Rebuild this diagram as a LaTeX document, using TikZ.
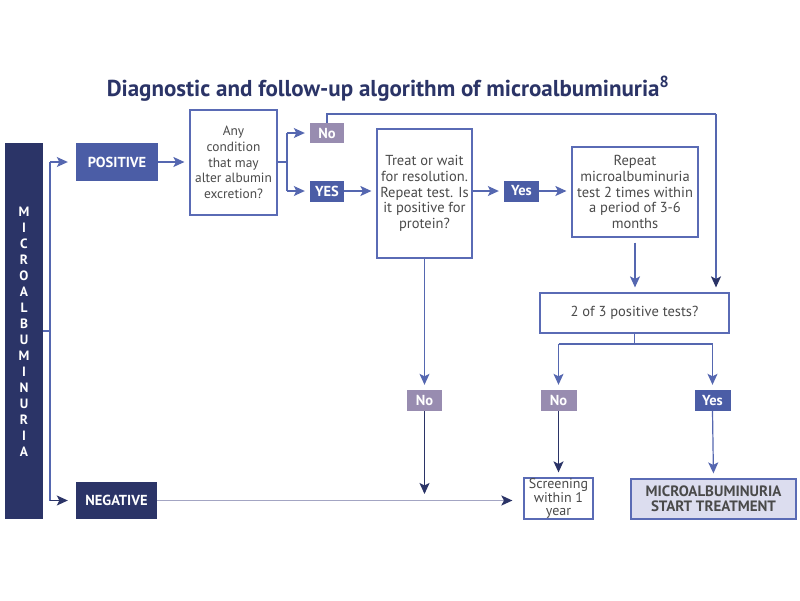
\documentclass[tikz,border=0pt]{standalone}
\usepackage{fontspec}
\setmainfont{PT Sans}
\usetikzlibrary{arrows.meta}
\definecolor{navy}{HTML}{2B3467}
\definecolor{mblue}{HTML}{4B5DA6}
\definecolor{lblue}{HTML}{5567B0}
\definecolor{boxblue}{HTML}{5A6BB5}
\definecolor{nopurple}{HTML}{988CB0}
\definecolor{lav}{HTML}{DCDDEF}
\definecolor{txtgray}{HTML}{4A4A4A}
\definecolor{negline}{HTML}{A3A5C3}
\begin{document}
\begin{tikzpicture}[x=1pt,y=-1pt,
  qbox/.style={draw=boxblue,line width=1.2pt,fill=white,inner sep=0pt,align=center,
    text=txtgray,font=\fontsize{14.5}{15.7}\selectfont,rectangle},
  tag/.style={inner sep=0pt,text=white,font=\bfseries\fontsize{14.5}{15}\selectfont,rectangle,align=center},
  ln/.style={draw=lblue,line width=1.2pt},
  arr/.style={ln,-{Stealth[length=11pt,width=10pt,inset=2.5pt]},shorten >=5pt},
  narr/.style={draw=navy,line width=1.2pt,-{Stealth[length=11pt,width=10pt,inset=2.5pt]},shorten >=5pt},
]
\useasboundingbox[fill=white] (0,0) rectangle (800,600);

\node[font=\bfseries\fontsize{23}{27}\selectfont,text=navy] (title) at (388,89)
  {Diagnostic and follow-up algorithm of microalbuminuria\textsuperscript{8}};

% left bar
\node[fill=navy,minimum width=38pt,minimum height=376pt,inner sep=0pt,rectangle] (bar) at (24,331) {};
\node[text=white,font=\bfseries\fontsize{13.5}{16}\selectfont,align=center,inner sep=0pt] (bartxt) at (24,332)
  {M\\I\\C\\R\\O\\A\\L\\B\\U\\M\\I\\N\\U\\R\\I\\A};

% tags and boxes
\node[tag,fill=mblue,minimum width=82pt,minimum height=38pt] (pos) at (117,162) {POSITIVE};
\node[tag,fill=navy,minimum width=81pt,minimum height=37pt] (neg) at (116.5,500.5) {NEGATIVE};
\node[qbox,minimum width=87pt,minimum height=105pt,font=\fontsize{13.4}{15.8}\selectfont] (q1) at (233.5,162.5)
  {Any\\condition\\that may\\alter albumin\\excretion?};
\node[tag,fill=nopurple,minimum width=34pt,minimum height=20pt] (no1) at (327,133) {No};
\node[tag,fill=mblue,minimum width=34pt,minimum height=21pt] (yes1) at (327,191) {YES};
\node[qbox,minimum width=95pt,minimum height=129pt] (treat) at (424.5,193.5)
  {Treat or wait\\for resolution.\\Repeat test. Is\\it positive for\\protein?};
\node[tag,fill=mblue,minimum width=35pt,minimum height=21pt] (yes2) at (521.5,191) {Yes};
\node[qbox,minimum width=126pt,minimum height=90pt] (rep) at (635,192)
  {Repeat\\microalbuminuria\\test 2 times within\\a period of 3-6\\months};
\node[qbox,minimum width=189pt,minimum height=40pt] (two) at (634.5,313) {2 of 3 positive tests?};
\node[tag,fill=nopurple,minimum width=35pt,minimum height=21pt] (no2) at (424.5,400.5) {No};
\node[tag,fill=nopurple,minimum width=36pt,minimum height=21pt] (no3) at (558.5,400.5) {No};
\node[tag,fill=mblue,minimum width=36pt,minimum height=21pt] (yes3) at (712.5,400.5) {Yes};
\node[qbox,minimum width=69pt,minimum height=41pt,font=\fontsize{14}{13.2}\selectfont] (scr) at (558.5,498.5)
  {Screening\\within 1\\year};
\node[qbox,fill=lav,minimum width=165pt,minimum height=40pt,text=txtgray,
  font=\bfseries\fontsize{15}{15}\selectfont] (micro) at (713.5,499)
  {MICROALBUMINURIA\\START TREATMENT};

% connectors
\coordinate (jt) at (50,162);
\coordinate (jb) at (50,500.5);
\draw[ln] (bar.east) -- (bar.east -| jt);
\draw[ln] (jt) -- (jb);
\draw[arr,shorten >=8pt] (jt) -- (pos.west);
\draw[narr,shorten >=8pt] (jb) -- (neg.west);
\draw[arr] (pos.east) -- (pos.east -| q1.west);
\coordinate (qb) at (287,162);
\draw[ln] (q1.east |- qb) -- (qb);
\draw[ln] (qb |- no1) -- (qb |- yes1);
\draw[arr] (qb |- no1) -- (no1.west);
\draw[arr] (qb |- yes1) -- (yes1.west);
\draw[arr] (yes1.east) -- (yes1.east -| treat.west);
\draw[arr] (treat.east |- yes2) -- (yes2.west);
\draw[arr] (yes2.east) -- (yes2.east -| rep.west);
% top loop
\coordinate (tl) at (327,114);
\coordinate (tr) at (716,114);
\draw[ln] (no1.north) -- (tl) -- (tr);
\draw[ln,shorten >=5pt,-{Stealth[length=11pt,width=10pt,inset=2.5pt,color=navy]}] (tr) -- (tr |- two.north);
\draw[arr] ([yshift=-5pt]rep.south) -- (rep.south |- two.north);
% branch under two
\coordinate (bm) at (634.5,344);
\draw[ln] (two.south) -- (bm);
\draw[ln] (bm -| no3) -- (bm -| yes3);
\draw[arr] (bm -| no3) -- (no3.north);
\draw[arr] (bm -| yes3) -- (yes3.north);
\draw[arr] (treat.south) -- (no2.north);
\coordinate (ne) at (424.5,494);
\draw[narr,shorten >=0pt] (no2.south) -- (ne);
\draw[narr] (no3.south) -- (scr.north);
\draw[arr] (yes3.south) -- (micro.north);
\draw[draw=negline,line width=1.4pt,-{Stealth[length=11pt,width=10pt,inset=2.5pt,color=navy]},shorten >=11pt]
  (neg.east) -- (neg.east -| scr.west);
\end{tikzpicture}
\end{document}
